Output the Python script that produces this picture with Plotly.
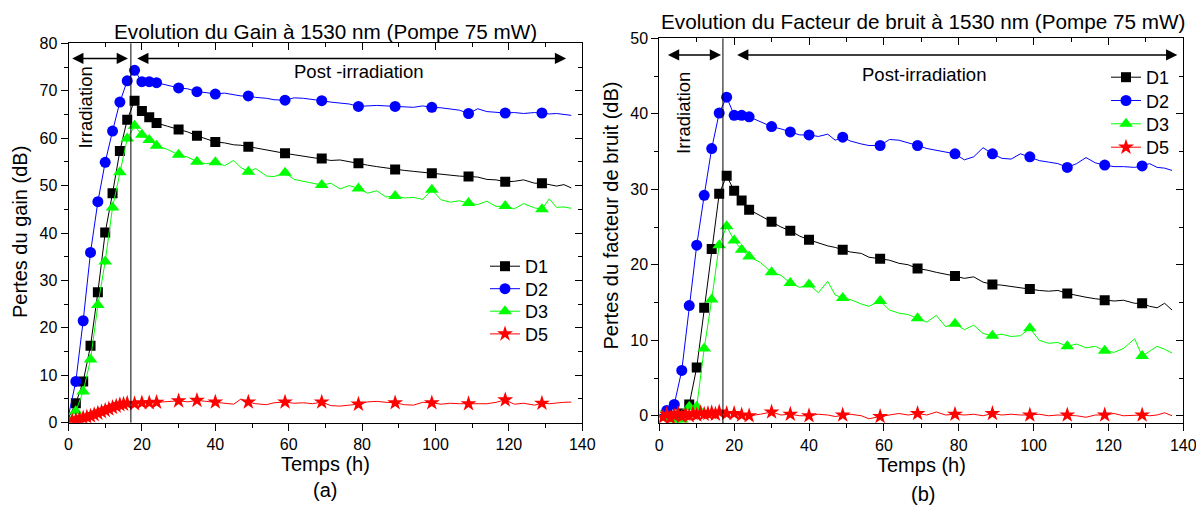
import plotly.graph_objects as go

# ---------------- data ----------------
t_dense = [0, 2, 4, 6, 8, 10, 12, 14, 16, 18, 20, 22, 24, 27, 30, 32.5, 35, 37.5, 40, 42.5, 45, 47, 49,
           51, 54, 56, 59, 61.5, 64, 66.5, 69, 71.5, 74, 76.5, 79, 81.5, 84, 86.5, 89, 91.5, 94, 96.5, 99,
           101.5, 104, 106.5, 109, 111.5, 114, 116.5, 119, 121.5, 124, 127, 129, 131, 133, 135, 137]
t_d5 = [0, 1, 2, 3, 4, 5, 6, 7, 8, 9, 10, 11, 12, 13, 14, 15, 16, 18, 20, 22, 24] + t_dense[13:]

marker_t = [2, 4, 6, 8, 10, 12, 14, 16, 18, 20, 22, 24, 30, 35, 40, 49, 59, 69, 79, 89, 99, 109, 119, 129]
marker_t_d5 = [1, 2, 3, 4, 5, 6, 7, 8, 9, 10, 11, 12, 13, 14, 15, 16, 18, 20, 22, 24,
               30, 35, 40, 49, 59, 69, 79, 89, 99, 109, 119, 129]

# (a) Pertes du gain (dB)
gain_D1 = [1.0, 4.1, 8.7, 16.2, 27.5, 40.1, 48.4, 57.3, 63.9, 67.9, 65.7, 64.4, 63.2,
           62.5, 61.8, 61.3, 60.5, 59.9, 59.2, 59.0, 58.6, 58.5, 58.2,
           57.9, 57.6, 57.2, 56.8, 56.5, 56.2, 56.0, 55.7, 55.3, 55.4, 55.0, 54.7,
           54.3, 54.0, 53.7, 53.4, 53.2, 53.0, 52.8, 52.6, 52.4, 52.1, 52.0, 51.9,
           51.8, 51.3, 51.2, 50.8, 50.9, 51.2, 50.5, 50.5, 50.2, 49.9, 50.2, 49.5]
gain_D2 = [1.5, 8.7, 21.5, 35.9, 46.6, 54.9, 61.5, 67.6, 72.1, 74.3, 71.9, 71.9, 71.7,
           71.2, 70.6, 70.4, 69.8, 69.6, 69.3, 69.5, 69.2, 68.9, 68.9,
           68.6, 68.4, 68.1, 68.0, 68.5, 68.4, 68.2, 67.9, 67.6, 67.4, 67.2, 66.7,
           66.8, 66.9, 66.8, 66.7, 66.6, 66.5, 66.8, 66.5, 66.4, 66.2, 65.9, 65.2,
           66.2, 65.6, 65.5, 65.3, 65.4, 65.2, 65.4, 65.3, 65.1, 65.2, 65.0, 64.8]
gain_D3 = [0.8, 2.4, 6.6, 13.3, 24.8, 34.0, 45.4, 52.8, 59.9, 62.6, 60.7, 59.6, 58.4,
           57.6, 56.5, 56.0, 55.0, 54.6, 54.9, 54.2, 55.3, 53.8, 52.9,
           53.6, 52.0, 51.9, 52.7, 51.3, 50.9, 50.6, 50.1, 50.5, 49.3, 50.0, 49.4,
           48.4, 48.9, 47.6, 47.8, 47.4, 47.5, 47.1, 49.1, 47.0, 46.5, 46.8, 46.3,
           46.0, 46.7, 45.6, 45.7, 45.1, 46.2, 45.3, 45.0, 47.2, 45.4, 45.5, 45.2]
gain_D5 = [0.3, 0.4, 0.6, 0.8, 1.0, 1.2, 1.4, 1.7, 2.0, 2.3, 2.6, 2.9, 3.2, 3.5, 3.8, 3.9, 4.1,
           4.0, 4.2, 4.2, 4.3,
           4.4, 4.6, 4.4, 4.7, 4.5, 4.35, 4.1, 3.9, 5.0, 4.35,
           4.0, 3.8, 4.2, 4.35, 4.1, 4.2, 4.0, 4.35, 3.6, 3.5, 3.7, 3.9,
           4.4, 4.5, 4.3, 4.2, 3.8, 3.7, 4.3, 4.2, 3.9, 4.1, 4.0, 4.0,
           4.1, 4.0, 4.3, 4.8, 3.9, 4.1, 3.7, 4.1, 4.0, 4.2, 4.3, 4.35]

# (b) Pertes du facteur de bruit (dB)
nf_D1 = [0.2, 0.1, 0.0, 0.3, 1.5, 6.4, 14.3, 22.1, 29.4, 31.8, 29.8, 28.5, 27.3,
         26.5, 25.7, 25.0, 24.5, 23.8, 23.3, 22.9, 22.5, 22.3, 22.0,
         21.7, 21.5, 21.0, 20.8, 20.6, 20.2, 20.0, 19.5, 19.3, 19.0, 18.8, 18.5,
         18.2, 18.4, 17.7, 17.4, 17.3, 17.1, 16.9, 16.8, 16.6, 16.5, 16.6, 16.2,
         15.9, 15.7, 15.5, 15.3, 15.2, 15.3, 14.9, 14.9, 14.5, 14.3, 14.9, 14.0]
nf_D2 = [0.0, 0.7, 1.5, 6.0, 14.6, 22.6, 29.2, 35.4, 40.1, 42.2, 39.8, 39.8, 39.6,
         39.0, 38.3, 38.0, 37.6, 37.2, 37.2, 37.0, 37.3, 36.5, 36.9,
         36.4, 36.0, 35.8, 35.8, 36.6, 36.5, 36.2, 35.8, 35.4, 35.2, 35.0, 34.7,
         33.9, 34.3, 35.5, 34.7, 34.1, 34.0, 34.7, 34.3, 33.8, 33.6, 33.4, 32.9,
         33.4, 34.2, 33.5, 33.2, 33.0, 33.0, 32.9, 33.1, 33.4, 32.9, 32.8, 32.5]
nf_D3 = [0.8, -0.3, -0.5, -0.5, 1.2, 1.2, 8.9, 15.4, 22.6, 25.1, 23.2, 22.0, 21.1,
         20.3, 19.0, 18.6, 17.6, 17.0, 17.4, 16.3, 17.8, 16.0, 15.6,
         15.4, 14.8, 14.5, 15.2, 14.0, 13.6, 13.4, 12.9, 12.4, 13.3, 11.8, 12.2,
         11.4, 12.0, 10.9, 10.6, 10.8, 10.5, 10.6, 11.6, 10.0, 9.6, 9.7, 9.2,
         9.5, 9.0, 9.2, 8.6, 8.4, 8.9, 10.2, 7.9, 8.5, 9.2, 8.8, 8.3]
nf_D5 = [0.1, -0.2, 0.2, -0.3, 0.0, 0.3, -0.1, 0.2, 0.0, 0.3, 0.1, 0.4, 0.2, 0.3, 0.4, 0.2, 0.5,
         0.3, 0.3, 0.1, 0.0,
         0.2, 0.5, 0.1, 0.2, 0.0, 0.0, 0.2, 0.1, -0.1, 0.1,
         0.2, 0.0, -0.4, -0.1, 0.1, 0.3, 0.1, 0.3, 0.1, 0.5, 0.1, 0.2,
         0.1, 0.2, 0.0, 0.3, 0.1, 0.2, 0.1, 0.1, 0.2, 0.0, 0.1, 0.1,
         0.0, -0.2, 0.1, 0.1, 0.3, 0.0, 0.1, 0.1, 0.0, 0.1, 0.4, 0.0]

series_names = ["D1", "D2", "D3", "D5"]
series_colors = ["#000000", "#0000FF", "#00FF00", "#FF0000"]
series_symbols = ["square", "circle", "triangle-up", "star"]
series_sizes = [10, 11, 12, 12]

x_range = [0, 140]
gain_range = [0, 80]
nf_range = [-1, 50]
irradiation_end = 17
# arrow spans (h) and heights for annotations
arrows_a = [(0.6, 16.2, 76.8), (18.3, 135.6, 76.8)]
arrows_b = [(1.9, 16.5, 47.8), (20.4, 138.4, 47.8)]

FONT = "Liberation Sans, Arial, sans-serif"
# the page body has an 8px margin: the figure is sized to fill the rest of the window
OFF = 8
W, H = 1204 - OFF, 505 - OFF


def px(x):
    return (x - OFF) / W


def py(y):
    return 1 - (y - OFF) / H


def pick(ts, vs, keep):
    xs, ys = [], []
    for t, v in zip(ts, vs):
        if t in keep:
            xs.append(t)
            ys.append(v)
    return xs, ys


fig = go.Figure()

# legend item placement (window pixels): text left x, item centre y
legend_slots = {
    "a": (527, [264, 286.5, 309, 331.7]),
    "b": (1148, [75, 98.3, 121.6, 145]),
}

panels = [
    ("x", "y", "a", [(t_dense, gain_D1), (t_dense, gain_D2), (t_dense, gain_D3), (t_d5, gain_D5)]),
    ("x2", "y2", "b", [(t_dense, nf_D1), (t_dense, nf_D2), (t_dense, nf_D3), (t_d5, nf_D5)]),
]

legend_layout = {}
lg_idx = 0
for xa, ya, key, data in panels:
    for i, (ts, vs) in enumerate(data):
        col = series_colors[i]
        keep = marker_t_d5 if series_names[i] == "D5" else marker_t
        fig.add_trace(go.Scatter(x=ts, y=vs, mode="lines", line=dict(color=col, width=1),
                                 xaxis=xa, yaxis=ya, showlegend=False, hoverinfo="skip"))
        mx, my = pick(ts, vs, keep)
        fig.add_trace(go.Scatter(x=mx, y=my, mode="markers",
                                 marker=dict(symbol=series_symbols[i], size=series_sizes[i], color=col,
                                             line=dict(width=0)),
                                 xaxis=xa, yaxis=ya, showlegend=False))
    tx, ys = legend_slots[key]
    for i in range(4):
        lg_idx += 1
        lname = "legend" if lg_idx == 1 else f"legend{lg_idx}"
        fig.add_trace(go.Scatter(x=[None], y=[None], mode="lines+markers", name=series_names[i],
                                 line=dict(color=series_colors[i], width=1),
                                 marker=dict(symbol=series_symbols[i], size=series_sizes[i],
                                             color=series_colors[i], line=dict(width=0)),
                                 xaxis=xa, yaxis=ya, legend=lname))
        legend_layout[lname] = dict(x=px(tx - 42), y=py(ys[i] - 16), xanchor="left", yanchor="top",
                                    bgcolor="rgba(0,0,0,0)", borderwidth=0,
                                    font=dict(family=FONT, size=18, color="black"))

# dummy traces for the mirrored (inside-tick) axes
fig.add_trace(go.Scatter(x=[None], y=[None], xaxis="x3", yaxis="y3", showlegend=False))
fig.add_trace(go.Scatter(x=[None], y=[None], xaxis="x4", yaxis="y4", showlegend=False))

tickfont = dict(family=FONT, size=16, color="black")


def main_axis(rng, dtick, minor, dom, anchor):
    return dict(domain=dom, anchor=anchor, range=rng, tick0=0, dtick=dtick, ticks="outside", ticklen=7,
                tickwidth=1, tickcolor="black", minor=dict(dtick=minor, ticks="outside", ticklen=4,
                                                           tickcolor="black", showgrid=False),
                showline=True, mirror=True, linecolor="black", linewidth=1, showgrid=False, zeroline=False,
                tickfont=tickfont, automargin=False)


def mirror_axis(rng, dtick, minor, over, side, anchor):
    return dict(overlaying=over, side=side, anchor=anchor, range=rng, tick0=0, dtick=dtick, ticks="inside",
                ticklen=7, tickwidth=1, tickcolor="black",
                minor=dict(dtick=minor, ticks="inside", ticklen=4, tickcolor="black", showgrid=False),
                showticklabels=False, showline=False, showgrid=False, zeroline=False, automargin=False)


dom_xa = [px(68.5), px(582.3)]
dom_ya = [py(422.7), py(43.3)]
dom_xb = [px(659.3), px(1183.3)]
dom_yb = [py(423.3), py(38.3)]

fig.update_layout(
    template="none",
    xaxis=main_axis(x_range, 20, 10, dom_xa, "y"),
    yaxis=main_axis(gain_range, 10, 5, dom_ya, "x"),
    xaxis2=main_axis(x_range, 20, 10, dom_xb, "y2"),
    yaxis2=main_axis(nf_range, 10, 5, dom_yb, "x2"),
    xaxis3=mirror_axis(x_range, 20, 10, "x", "top", "y"),
    yaxis3=mirror_axis(gain_range, 10, 5, "y", "right", "x"),
    xaxis4=mirror_axis(x_range, 20, 10, "x2", "top", "y2"),
    yaxis4=mirror_axis(nf_range, 10, 5, "y2", "right", "x2"),
    **legend_layout,
)

# vertical line at end of irradiation
for xr, yr in [("x", "y domain"), ("x2", "y2 domain")]:
    fig.add_shape(type="line", xref=xr, yref=yr, x0=irradiation_end, x1=irradiation_end, y0=0, y1=1,
                  line=dict(color="black", width=1))

# double arrows
for (xr, yr, arrs) in [("x", "y", arrows_a), ("x2", "y2", arrows_b)]:
    for (a0, a1, yv) in arrs:
        fig.add_annotation(x=a1, y=yv, ax=a0, ay=yv, xref=xr, yref=yr, axref=xr, ayref=yr, text="",
                           showarrow=True, arrowhead=2, startarrowhead=2, arrowside="end+start",
                           arrowsize=1.5, startarrowsize=1.5, arrowwidth=1.5, arrowcolor="black")

txt = dict(family=FONT, size=18.5, color="black")
fig.add_annotation(x=4.7, y=66.4, xref="x", yref="y", text="Irradiation", textangle=-90, showarrow=False, font=txt)
fig.add_annotation(x=79.1, y=74.1, xref="x", yref="y", text="Post -irradiation", showarrow=False, font=txt)
fig.add_annotation(x=6.3, y=40.1, xref="x2", yref="y2", text="Irradiation", textangle=-90, showarrow=False, font=txt)
fig.add_annotation(x=70.8, y=45.2, xref="x2", yref="y2", text="Post-irradiation", showarrow=False, font=txt)

big = dict(family=FONT, size=20, color="black")
ttl = dict(family=FONT, size=20.7, color="black")
labels = [
    (325.4, 32, "Evolution du Gain à 1530 nm (Pompe 75 mW)", 0, ttl),
    (922.5, 22, "Evolution du Facteur de bruit à 1530 nm (Pompe 75 mW)", 0, ttl),
    (325.4, 464, "Temps (h)", 0, big),
    (921.3, 465, "Temps (h)", 0, big),
    (325.4, 490, "(a)", 0, big),
    (922.7, 494, "(b)", 0, big),
    (20, 232, "Pertes du gain (dB)", -90, big),
    (610.5, 216, "Pertes du facteur de bruit (dB)", -90, big),
]
for xx, yy, s, ang, f in labels:
    fig.add_annotation(x=px(xx), y=py(yy), xref="paper", yref="paper", text=s, textangle=ang,
                       showarrow=False, font=f, xanchor="center", yanchor="middle")

fig.update_layout(width=W, height=H, margin=dict(l=0, r=0, t=0, b=0, pad=0), autosize=False,
                  paper_bgcolor="white", plot_bgcolor="white", font=dict(family=FONT, color="black"),
                  showlegend=True)

fig.write_html("out.html")
